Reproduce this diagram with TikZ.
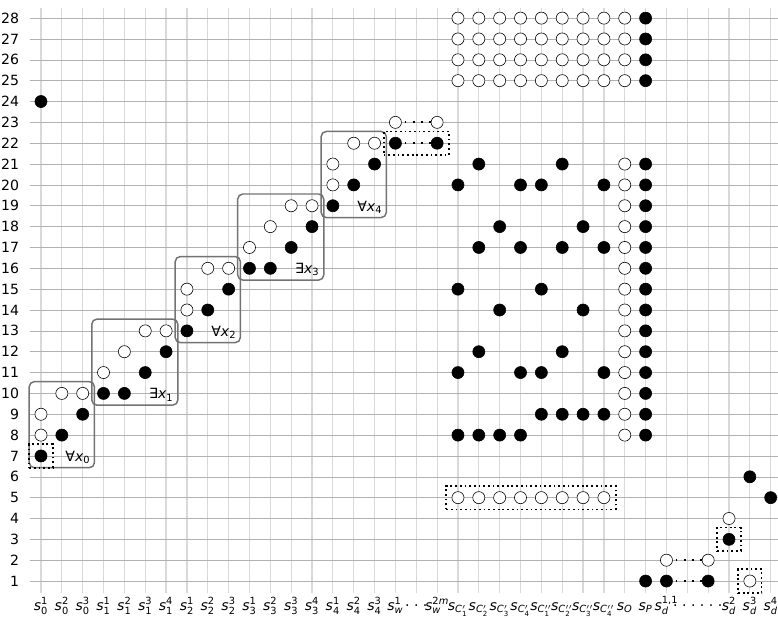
\documentclass[tikz,border=0pt]{standalone}
\usepackage{amsmath}
\usepackage{fontspec}
\setmainfont{DejaVu Sans}
\usetikzlibrary{fit}

% state and quantifier labels
\newcommand{\sv}[2]{$\text{\itshape s}_{\text{#1}}^{\text{#2}}$}
\newcommand{\svc}[2]{$\text{\itshape s}_{\text{\itshape C}_{\text{#1}}^{#2}}$}
\newcommand{\svo}[1]{$\text{\itshape s}_{\text{\itshape #1}}$}
\newcommand{\qx}[2]{$\text{#1\itshape x}_{\text{#2}}$}

\begin{document}
\begin{tikzpicture}[
  x=0.5cm, y=0.5cm,
  every node/.style={font=\fontsize{9.6}{11}\selectfont},
  full/.style={circle, draw, fill=black, inner sep=0pt, minimum size=2.9mm},
  hollow/.style={circle, draw, fill=white, inner sep=0pt, minimum size=2.9mm},
  blockbox/.style={draw=black!55, line width=1pt, rounded corners=3.5pt, inner sep=1.3mm},
  dotbox/.style={draw, very thick, dotted, inner sep=1.3mm},
  dotlink/.style={line width=1.2pt, dash pattern=on 1.2pt off 4.4pt, dash phase=-2pt},
  hline/.style={gray!60, line width=0.4pt},
  vline/.style={gray!30, line width=0.8pt}
]
\useasboundingbox (-1.966,-0.775) rectangle (35.35,28.87);

%% ---- Grid ------------------------------------------------------------
\foreach \c in {0,...,35}
  \draw[vline] (\c,0.45) -- (\c,28.5);
\foreach \r in {1,...,28}
  \draw[hline] (-0.55,\r) -- (35.35,\r);

%% ---- Row and column labels -------------------------------------------
\foreach \r in {1,...,28}
  \node[anchor=east] (row\r) at (-0.8,\r) {\r};
\foreach \c/\t in {0/{\sv{0}{1}}, 1/{\sv{0}{2}}, 2/{\sv{0}{3}},
    3/{\sv{1}{1}}, 4/{\sv{1}{2}}, 5/{\sv{1}{3}}, 6/{\sv{1}{4}},
    7/{\sv{2}{1}}, 8/{\sv{2}{2}}, 9/{\sv{2}{3}},
    10/{\sv{3}{1}}, 11/{\sv{3}{2}}, 12/{\sv{3}{3}}, 13/{\sv{3}{4}},
    14/{\sv{4}{1}}, 15/{\sv{4}{2}}, 16/{\sv{4}{3}},
    17/{\sv{\itshape w}{1}}, 18/{· · ·}, 19/{\sv{\itshape w}{2\itshape m}},
    20/{\svc{1}{\prime}}, 21/{\svc{2}{\prime}}, 22/{\svc{3}{\prime}}, 23/{\svc{4}{\prime}},
    24/{\svc{1}{\prime\prime}}, 25/{\svc{2}{\prime\prime}}, 26/{\svc{3}{\prime\prime}},
    27/{\svc{4}{\prime\prime}}, 28/{\svo{O}}, 29/{\svo{P}},
    30/{\sv{\itshape d}{1,1}}, 31.5/{· · · · · ·},
    33/{\sv{\itshape d}{2}}, 34/{\sv{\itshape d}{3}}, 35/{\sv{\itshape d}{4}}}
  \node[anchor=base] (col\c) at (\c,-0.39) {\t};

%% ---- Quantifier staircase (left) -------------------------------------
\foreach \c/\r in {0/24, 0/7, 1/8, 2/9, 3/10, 4/10, 5/11, 6/12,
    7/13, 8/14, 9/15, 10/16, 11/16, 12/17, 13/18, 14/19, 15/20, 16/21,
    17/22, 19/22}
  \node[full] (d\c-\r) at (\c,\r) {};
\foreach \c/\r in {0/8, 0/9, 1/10, 2/10, 3/11, 4/12, 5/13, 6/13,
    7/14, 7/15, 8/16, 9/16, 10/17, 11/18, 12/19, 13/19,
    14/20, 14/21, 15/22, 16/22, 17/23, 19/23}
  \node[hollow] (d\c-\r) at (\c,\r) {};

% blocks with their quantifier
\foreach \a/\b/\lo/\hi/\q [count=\k from 0] in
    {0/2/7/10/∀, 3/6/10/13/∃, 7/9/13/16/∀, 10/13/16/19/∃, 14/16/19/22/∀} {
  \node[blockbox, fit=(d\a-\lo)(d\b-\hi)] (blk\k) {};
  \node (q\k) at (\b-0.23,\lo-0.07) {\qx{\q}{\k}};
}

% w-variables
\draw[dotlink] (d17-23) -- (d19-23);
\draw[dotlink] (d17-22) -- (d19-22);

%% ---- Clause gadget (middle) ------------------------------------------
\foreach \c/\r in {20/20, 21/21, 23/20, 24/20, 25/21, 27/20,
    22/18, 26/18, 21/17, 23/17, 25/17, 27/17,
    20/15, 24/15, 22/14, 26/14, 21/12, 25/12,
    20/11, 23/11, 24/11, 27/11,
    24/9, 25/9, 26/9, 27/9, 20/8, 21/8, 22/8, 23/8}
  \node[full] (d\c-\r) at (\c,\r) {};
\foreach \r in {8,...,21} {
  \node[hollow] (d28-\r) at (28,\r) {};
  \node[full] (d29-\r) at (29,\r) {};
}
\foreach \r in {25,...,28} {
  \foreach \c in {20,...,28}
    \node[hollow] (d\c-\r) at (\c,\r) {};
  \node[full] (d29-\r) at (29,\r) {};
}
\foreach \c in {20,...,27}
  \node[hollow] (d\c-5) at (\c,5) {};

%% ---- Decision part (bottom right) ------------------------------------
\foreach \c/\r in {29/1, 30/1, 32/1, 33/3, 34/6, 35/5}
  \node[full] (d\c-\r) at (\c,\r) {};
\foreach \c/\r in {30/2, 32/2, 33/4, 34/1}
  \node[hollow] (d\c-\r) at (\c,\r) {};
\draw[dotlink] (d30-2) -- (d32-2);
\draw[dotlink] (d30-1) -- (d32-1);

%% ---- Selected positions ----------------------------------------------
\node[dotbox, fit=(d0-7)] (sel0) {};
\node[dotbox, fit=(d17-22)(d19-22)] (sel1) {};
\node[dotbox, fit=(d20-5)(d27-5)] (sel2) {};
\node[dotbox, fit=(d33-3)] (sel3) {};
\node[dotbox, fit=(d34-1)] (sel4) {};

\end{tikzpicture}
\end{document}
